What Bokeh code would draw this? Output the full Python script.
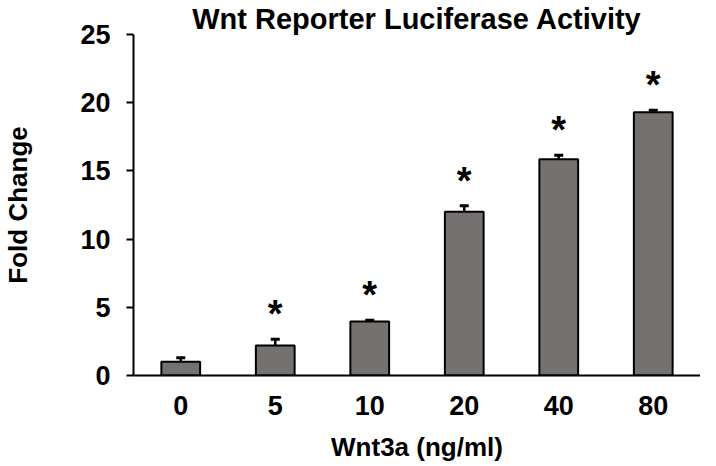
from bokeh.plotting import figure
from bokeh.models import FactorRange, Whisker, TeeHead, ColumnDataSource, FixedTicker
from bokeh.core.properties import value
from bokeh.embed import file_html
from bokeh.resources import INLINE

# Data
doses = ["0", "5", "10", "20", "40", "80"]
fold_change = [1.0, 2.2, 3.95, 12.0, 15.85, 19.3]
sem = [0.3, 0.45, 0.1, 0.45, 0.3, 0.15]
significant = [False, True, True, True, True, True]
y_ticks = [0, 5, 10, 15, 20, 25]

FONT = "Liberation Sans"
BAR_COLOR = "#767171"

upper = [m + e for m, e in zip(fold_change, sem)]
src = ColumnDataSource(dict(dose=doses, fc=fold_change, upper=upper))

star_x = [d for d, s in zip(doses, significant) if s]
star_y = [u for u, s in zip(upper, significant) if s]
star_src = ColumnDataSource(dict(x=star_x, y=star_y, t=["*"] * len(star_x)))

p = figure(x_range=FactorRange(*doses), y_range=(0, 25),
           width=700, height=464, output_backend="svg", toolbar_location=None,
           title="Wnt Reporter Luciferase Activity",
           min_border_left=116, min_border_right=0, min_border_top=33, min_border_bottom=89)
p.outline_line_color = None
p.xgrid.grid_line_color = None
p.ygrid.grid_line_color = None
p.background_fill_color = "white"

p.title.align = "center"
p.title.text_font = FONT
p.title.text_font_style = "bold"
p.title.text_font_size = "29px"
p.title.text_color = "black"
p.title.standoff = 0

p.vbar(x="dose", top="fc", width=0.41, source=src, fill_color=BAR_COLOR,
       line_color="black", line_width=2)

w = Whisker(base="dose", lower="fc", upper="upper", source=src,
            line_color="black", line_width=2.5,
            upper_head=TeeHead(size=9, line_color="black", line_width=3),
            lower_head=None)
p.add_layout(w)

p.text(x="x", y="y", text="t", source=star_src, text_align="center",
       text_baseline="middle", text_font=value(FONT), text_font_style="bold",
       text_font_size="38px", text_color="black", y_offset=-25)

# Axes
p.yaxis.ticker = FixedTicker(ticks=y_ticks)
p.yaxis.axis_line_width = 2
p.yaxis.axis_line_color = "black"
p.yaxis.major_tick_out = 7
p.yaxis.major_tick_in = 0
p.yaxis.major_tick_line_width = 2
p.yaxis.minor_tick_line_color = None
p.yaxis.major_label_standoff = 16
p.yaxis.major_label_text_font = FONT
p.yaxis.major_label_text_font_style = "bold"
p.yaxis.major_label_text_font_size = "27px"
p.yaxis.major_label_text_color = "black"
p.yaxis.axis_label = "Fold Change"
p.yaxis.axis_label_text_font = FONT
p.yaxis.axis_label_text_font_style = "bold"
p.yaxis.axis_label_text_font_size = "26px"
p.yaxis.axis_label_text_color = "black"
p.yaxis.axis_label_standoff = 44

p.xaxis.axis_line_width = 2
p.xaxis.axis_line_color = "black"
p.xaxis.major_tick_line_color = None
p.xaxis.major_tick_out = 0
p.xaxis.major_tick_in = 0
p.xaxis.major_label_standoff = 20
p.xaxis.major_label_text_font = FONT
p.xaxis.major_label_text_font_style = "bold"
p.xaxis.major_label_text_font_size = "27px"
p.xaxis.major_label_text_color = "black"
p.xaxis.axis_label = "Wnt3a (ng/ml)"
p.xaxis.axis_label_text_font = FONT
p.xaxis.axis_label_text_font_style = "bold"
p.xaxis.axis_label_text_font_size = "26px"
p.xaxis.axis_label_text_color = "black"
p.xaxis.axis_label_standoff = 14

open("out.html", "w").write(file_html(p, INLINE))
